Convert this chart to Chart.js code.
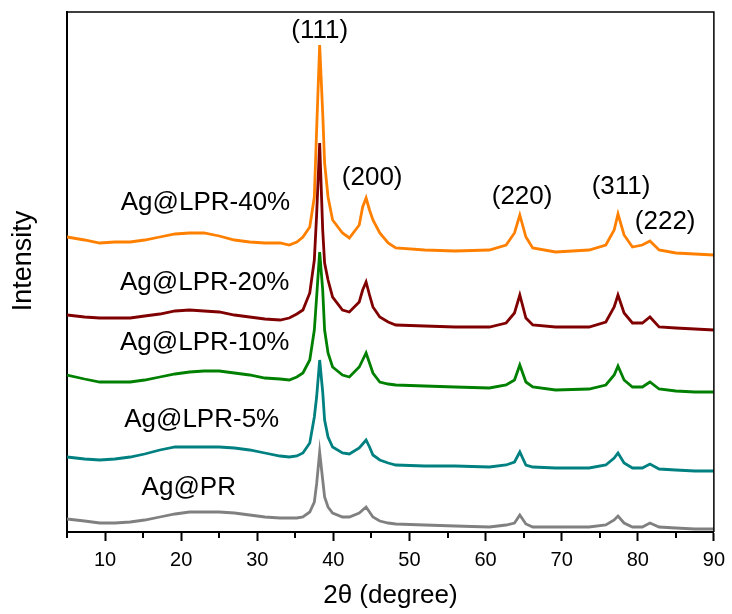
<!DOCTYPE html>
<html>
<head>
<meta charset="utf-8">
<script src="https://cdn.jsdelivr.net/npm/chart.js@4.4.1/dist/chart.umd.min.js"></script>
<style>
  html, body { margin: 0; padding: 0; background: #fff; }
  canvas { display: block; }
</style>
</head>
<body>
<canvas id="xrd" width="732" height="614"></canvas>
<script>
// 2theta positions (degree) where the curves were read
const twoTheta = [5.0, 7.3, 9.3, 11.3, 13.3, 15.2, 17.2, 19.2, 21.1, 23.0,
  25.0, 27.0, 29.0, 31.0, 33.0, 34.2, 35.2, 36.0, 36.9, 37.5,
  37.8, 38.2, 38.6, 38.85, 39.3, 39.9, 41.2, 42.1, 43.4, 43.85,
  44.3, 44.75, 45.2, 46.1, 47.2, 48.2, 52, 56, 60.5, 62.7,
  63.8, 64.5, 65.3, 66.2, 69.2, 73.6, 75.8, 76.9, 77.4, 78.2,
  79.3, 80.6, 81.6, 82.8, 85, 87.5, 90];

// intensity (a.u., stacked with offsets as in the figure)
const agPR = [13, 11, 9, 9, 10, 12, 15, 18, 20, 20,
  20, 19, 17, 15, 14, 14, 14, 15, 20, 30,
  48, 80, 52, 35, 25, 19, 15, 15, 19, 22,
  25, 20, 15, 11, 9, 8, 7, 6, 5, 7,
  9, 17, 8, 5, 5, 5, 7, 12, 16, 9,
  5, 5, 9, 5, 4, 3, 3];
const agLPR5 = [75, 73, 72, 73, 75, 78, 82, 85, 85, 85,
  85, 84, 82, 79, 76, 75, 76, 79, 89, 115,
  135, 172, 140, 112, 95, 85, 79, 78, 84, 88,
  92, 85, 77, 72, 69, 67, 66, 66, 65, 67,
  70, 80, 67, 65, 64, 64, 67, 74, 79, 69,
  64, 64, 68, 63, 62, 61, 61];
const agLPR10 = [157, 153, 150, 150, 150, 152, 155, 158, 160, 161,
  161, 159, 157, 154, 153, 152, 155, 159, 172, 202,
  235, 280, 242, 202, 179, 165, 157, 155, 165, 172,
  179, 169, 159, 150, 148, 147, 146, 145, 144, 147,
  152, 167, 150, 145, 142, 143, 147, 157, 166, 152,
  145, 145, 150, 143, 141, 140, 140];
const agLPR20 = [217, 215, 214, 214, 214, 216, 218, 221, 222, 221,
  220, 217, 215, 213, 212, 214, 218, 222, 239, 272,
  317, 389, 302, 269, 252, 235, 222, 220, 230, 242,
  250, 237, 225, 215, 210, 207, 206, 205, 205, 209,
  219, 237, 214, 207, 205, 205, 210, 225, 237, 219,
  209, 209, 215, 205, 204, 203, 202];
const agLPR40 = [295, 292, 289, 290, 290, 292, 295, 298, 299, 299,
  296, 292, 290, 289, 289, 287, 290, 295, 305, 335,
  402, 487, 419, 369, 335, 312, 299, 294, 307, 325,
  334, 322, 312, 299, 289, 284, 282, 281, 282, 287,
  299, 317, 295, 284, 280, 282, 287, 302, 318, 297,
  285, 287, 291, 282, 279, 278, 277];

const seriesNames = ['Ag@PR', 'Ag@LPR-5%', 'Ag@LPR-10%', 'Ag@LPR-20%', 'Ag@LPR-40%'];
const seriesValues = [agPR, agLPR5, agLPR10, agLPR20, agLPR40];
const seriesColors = ['#808080', '#008080', '#008000', '#800000', '#ff8000'];
// where each sample name sits (2theta, intensity)
const nameX = [21.0, 22.7, 23.1, 23.1, 23.2];
const nameY = [44, 112, 189, 249, 329];

// Miller indices of the silver peaks
const peakLabels = ['(111)', '(200)', '(220)', '(311)', '(222)'];
const peakLabelX = [38.2, 45.1, 64.8, 77.8, 83.6];
const peakLabelY = [501, 354, 335, 345, 310];

const fontFamily = 'Arial, "Liberation Sans", Helvetica, sans-serif';

const datasets = seriesValues.map((vals, i) => ({
  label: seriesNames[i],
  data: vals.map((v, j) => ({ x: twoTheta[j], y: v })),
  borderColor: seriesColors[i],
  borderWidth: 2.8,
  pointRadius: 0,
  tension: 0,
  fill: false
}));

const overlay = {
  id: 'overlay',
  afterDatasetsDraw(chart) {
    const { ctx, chartArea: area, scales: { x, y } } = chart;
    ctx.save();

    // thin top and right frame
    ctx.strokeStyle = '#000';
    ctx.lineWidth = 1.5;
    ctx.beginPath();
    ctx.moveTo(area.left, area.top);
    ctx.lineTo(area.right, area.top);
    ctx.lineTo(area.right, area.bottom);
    ctx.stroke();

    // short minor ticks at 5, 15, 25 ...
    ctx.lineWidth = 2;
    ctx.beginPath();
    for (const tick of x.ticks) {
      if (tick.value % 10 !== 0) {
        const px = Math.round(x.getPixelForValue(tick.value));
        ctx.moveTo(px, area.bottom);
        ctx.lineTo(px, area.bottom + 6);
      }
    }
    ctx.stroke();

    ctx.font = '26px ' + fontFamily;
    ctx.fillStyle = '#000';
    ctx.textAlign = 'center';
    ctx.textBaseline = 'middle';
    peakLabels.forEach((txt, i) => {
      ctx.fillText(txt, x.getPixelForValue(peakLabelX[i]), y.getPixelForValue(peakLabelY[i]));
    });
    seriesNames.forEach((txt, i) => {
      ctx.fillText(txt, x.getPixelForValue(nameX[i]), y.getPixelForValue(nameY[i]));
    });

    // y axis title, sits a little above the middle of the axis
    ctx.font = '27px ' + fontFamily;
    ctx.translate(24, 261);
    ctx.rotate(-Math.PI / 2);
    ctx.fillText('Intensity', 0, 0);
    ctx.restore();
  }
};

new Chart(document.getElementById('xrd'), {
  type: 'line',
  data: { datasets },
  options: {
    responsive: false,
    animation: false,
    devicePixelRatio: 1,
    layout: { padding: { left: 67, right: 17, top: 12, bottom: 0 } },
    plugins: {
      legend: { display: false },
      tooltip: { enabled: false }
    },
    scales: {
      x: {
        type: 'linear',
        min: 5,
        max: 90,
        grid: {
          display: true,
          drawOnChartArea: false,
          drawTicks: true,
          tickLength: 9,
          tickWidth: 2,
          tickColor: (c) => (c.tick && c.tick.value % 10 === 0 ? '#000' : 'rgba(0,0,0,0)')
        },
        border: { display: true, color: '#000', width: 2 },
        ticks: {
          stepSize: 5,
          padding: 7,
          color: '#000',
          maxRotation: 0,
          autoSkip: false,
          font: { size: 20, family: fontFamily },
          callback: (v) => (v % 10 === 0 ? String(v) : '')
        },
        title: {
          display: true,
          text: '2θ (degree)',
          color: '#000',
          font: { size: 26, family: fontFamily },
          padding: { top: 1.4, bottom: 2.4 }
        }
      },
      y: {
        min: 0,
        max: 520,
        grid: { display: false, drawTicks: false },
        border: { display: true, color: '#000', width: 2 },
        ticks: { display: false },
        title: { display: false }
      }
    }
  },
  plugins: [overlay]
});
</script>
</body>
</html>
